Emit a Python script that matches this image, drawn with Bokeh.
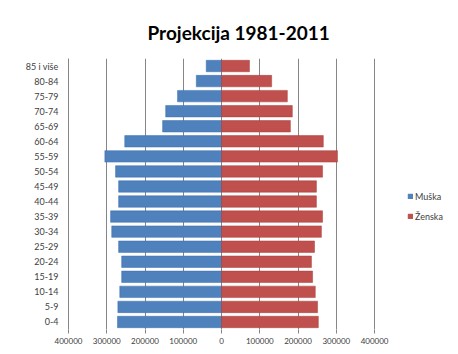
from bokeh.plotting import figure
from bokeh.models import Legend, LegendItem, CustomJSTickFormatter, FixedTicker, ColumnDataSource
from bokeh.embed import file_html
from bokeh.resources import INLINE

age_groups = ["85 i više", "80-84", "75-79", "70-74", "65-69", "60-64", "55-59", "50-54",
              "45-49", "40-44", "35-39", "30-34", "25-29", "20-24", "15-19", "10-14", "5-9", "0-4"]
muska = [40000, 66000, 115000, 146000, 154000, 253000, 305000, 277000,
         269000, 269000, 290000, 287000, 269000, 261000, 261000, 266000, 271000, 272000]
zenska = [73000, 131000, 172000, 185000, 180000, 266000, 303000, 264000,
          248000, 248000, 264000, 261000, 243000, 235000, 238000, 245000, 251000, 253000]
x_ticks = [-400000, -300000, -200000, -100000, 0, 100000, 200000, 300000, 400000]

FONT = "Lato"
factors = list(reversed(age_groups))

src = ColumnDataSource(dict(age=age_groups, m=[-v for v in muska], z=zenska))

p = figure(width=450, height=350, y_range=factors, x_range=(-400000, 588000),
           output_backend="svg", toolbar_location=None,
           min_border_left=68, min_border_right=4, min_border_top=58, min_border_bottom=21)

p.title.text = "Projekcija 1981-2011"
p.title.align = "left"
p.title.offset = 79
p.title.standoff = 30
p.title.text_font = FONT
p.title.text_font_size = "19px"
p.title.text_font_style = "bold"
p.title.text_color = "#000000"

r1 = p.hbar(y="age", left=0, right="m", height=0.76, source=src,
            fill_color="#4F81BD", line_color="#3B6FAE", line_width=0.5)
r2 = p.hbar(y="age", left=0, right="z", height=0.76, source=src,
            fill_color="#C0504D", line_color="#A63E3B", line_width=0.5)

p.xaxis.ticker = FixedTicker(ticks=x_ticks)
p.xaxis.formatter = CustomJSTickFormatter(code="return Math.abs(tick).toString();")
p.xaxis.major_label_text_font = FONT
p.xaxis.major_label_text_font_size = "8px"
p.xaxis.major_label_text_color = "#404040"
p.xaxis.axis_line_color = None
p.xaxis.major_tick_line_color = "#868686"
p.xaxis.major_tick_in = 0
p.xaxis.major_tick_out = 4
p.xaxis.minor_tick_line_color = None
p.xaxis.major_label_standoff = 4

p.yaxis.major_label_text_font = FONT
p.yaxis.major_label_text_font_size = "9px"
p.yaxis.major_label_text_color = "#404040"
p.yaxis.axis_line_color = "#868686"
p.yaxis.major_tick_line_color = None
p.yaxis.minor_tick_line_color = None
p.yaxis.major_label_standoff = 4

p.xgrid.grid_line_color = "#868686"
p.xgrid.grid_line_width = 1
p.ygrid.grid_line_color = None
p.outline_line_color = None

p.border_fill_color = "white"
p.background_fill_color = "white"

legend = Legend(items=[LegendItem(label="Muška", renderers=[r1]),
                       LegendItem(label="Ženska", renderers=[r2])],
                location=(339, 107), label_text_font=FONT, label_text_font_size="9px",
                label_text_color="#404040", glyph_width=6, glyph_height=6,
                label_height=12, label_width=20,
                spacing=8, padding=2, margin=0, border_line_color=None,
                label_standoff=2, background_fill_alpha=0)
p.add_layout(legend, "center")

open("out.html", "w").write(file_html(p, INLINE))
